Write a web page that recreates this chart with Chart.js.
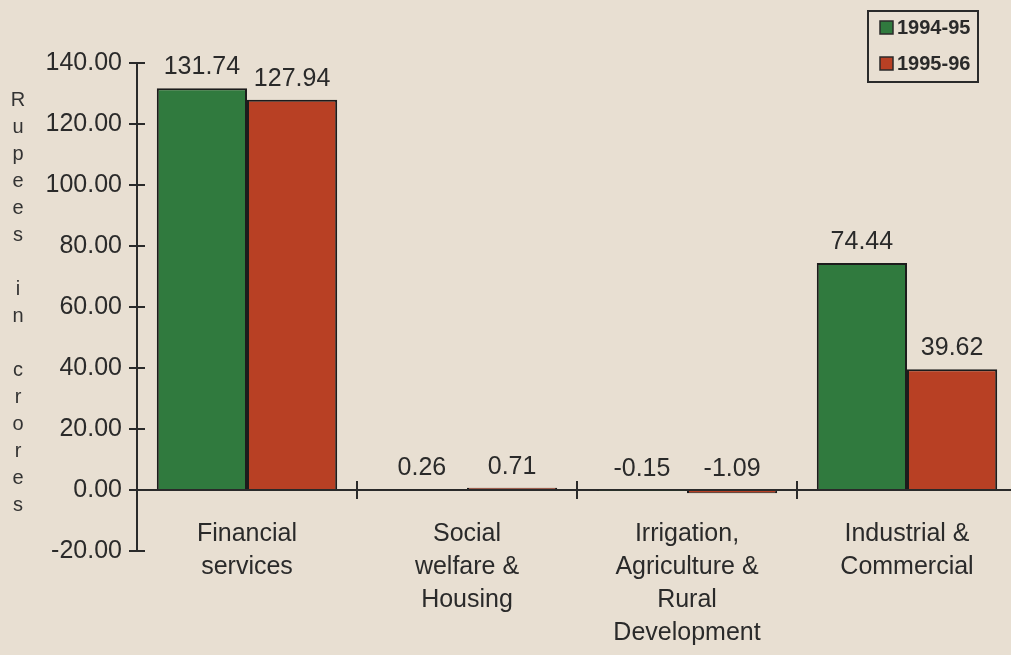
<!DOCTYPE html>
<html>
<head>
<meta charset="utf-8">
<script src="https://cdn.jsdelivr.net/npm/chart.js@4"></script>
<style>
  html, body { margin: 0; padding: 0; background: #e8dfd2; overflow: hidden; }
</style>
</head>
<body>
<!-- the scan cuts the plot a few pixels short on the right, so the canvas runs past the window -->
<canvas id="barChart" width="1017" height="655"></canvas>
<script>
// data
const categories = [
  ['Financial', 'services'],
  ['Social', 'welfare &', 'Housing'],
  ['Irrigation,', 'Agriculture &', 'Rural', 'Development'],
  ['Industrial &', 'Commercial']
];
const seriesNames = ['1994-95', '1995-96'];
const values9495 = [131.74, 0.26, -0.15, 74.44];
const values9596 = [127.94, 0.71, -1.09, 39.62];
const yTicks = [-20, 0, 20, 40, 60, 80, 100, 120, 140];
const axisTitle = 'Rupees in crores';

const FONT = "'Liberation Sans', Arial, Helvetica, sans-serif";
const INK = '#2a2a2a';
const GREEN = '#307a3e';
const RED = '#b84024';

// paper background
const paper = {
  id: 'paper',
  beforeDraw(chart) {
    const c = chart.ctx;
    c.save();
    c.fillStyle = '#e8dfd2';
    c.fillRect(0, 0, chart.width, chart.height);
    c.restore();
  }
};

// value labels above bars, axis ticks, category labels, vertical title, boxed legend
const extras = {
  id: 'extras',
  afterDatasetsDraw(chart) {
    const c = chart.ctx;
    const y = chart.scales.y;
    c.save();
    c.font = '25px ' + FONT;
    c.fillStyle = INK;
    c.textAlign = 'center';
    c.textBaseline = 'middle';
    chart.data.datasets.forEach((ds, di) => {
      chart.getDatasetMeta(di).data.forEach((bar, i) => {
        const v = ds.data[i];
        c.fillText(v.toFixed(2), bar.x, y.getPixelForValue(Math.max(v, 0)) - 21);
      });
    });
    c.restore();
  },
  afterDraw(chart) {
    const c = chart.ctx;
    const x = chart.scales.x;
    const y = chart.scales.y;
    const area = chart.chartArea;
    c.save();
    c.strokeStyle = INK;
    c.lineWidth = 2;

    // crossing ticks on the y axis
    y.ticks.forEach(t => {
      const py = Math.round(y.getPixelForValue(t.value));
      c.beginPath();
      c.moveTo(area.left - 8, py);
      c.lineTo(area.left + 8, py);
      c.stroke();
    });

    // crossing ticks on the zero line between categories
    const zero = y.getPixelForValue(0);
    const half = (x.getPixelForValue(1) - x.getPixelForValue(0)) / 2;
    for (let i = 1; i < categories.length; i++) {
      const px = Math.round(x.getPixelForValue(i) - half);
      c.beginPath();
      c.moveTo(px, zero - 9);
      c.lineTo(px, zero + 9);
      c.stroke();
    }

    // category labels hang under the zero line
    c.font = '25px ' + FONT;
    c.fillStyle = INK;
    c.textAlign = 'center';
    c.textBaseline = 'middle';
    chart.data.labels.forEach((lines, i) => {
      const px = x.getPixelForValue(i);
      lines.forEach((ln, j) => c.fillText(ln, px, zero + 44 + j * 33));
    });

    // vertical axis title, one letter per line
    c.font = '20px ' + FONT;
    c.fillStyle = '#333';
    axisTitle.split('').forEach((ch, i) => {
      c.fillText(ch, 18, 100 + i * 27);
    });

    // legend
    c.lineWidth = 2;
    c.strokeRect(868, 11, 110, 71);
    c.font = 'bold 20px ' + FONT;
    c.textAlign = 'left';
    chart.data.datasets.forEach((ds, i) => {
      const cy = 28 + i * 36;
      c.fillStyle = ds.backgroundColor;
      c.fillRect(880, cy - 7, 13, 13);
      c.lineWidth = 1.5;
      c.strokeRect(880, cy - 7, 13, 13);
      c.fillStyle = INK;
      c.fillText(ds.label, 897, cy);
    });
    c.restore();
  }
};

new Chart(document.getElementById('barChart').getContext('2d'), {
  type: 'bar',
  data: {
    labels: categories,
    datasets: [{
      label: seriesNames[0],
      data: values9495,
      backgroundColor: GREEN,
      borderColor: '#1c1c1c',
      borderWidth: 2
    }, {
      label: seriesNames[1],
      data: values9596,
      backgroundColor: RED,
      borderColor: '#1c1c1c',
      borderWidth: 2
    }]
  },
  options: {
    responsive: false,
    animation: false,
    devicePixelRatio: 1,
    categoryPercentage: 0.82,
    barPercentage: 1.0,
    layout: { padding: { left: 35, top: 63, right: 0, bottom: 0 } },
    plugins: {
      legend: { display: false },
      tooltip: { enabled: false }
    },
    scales: {
      x: {
        grid: { display: false, drawTicks: false },
        border: { display: false },
        ticks: { display: false },
        afterFit(scale) { scale.height = 104; }
      },
      y: {
        min: -20,
        max: 140,
        afterBuildTicks(scale) { scale.ticks = yTicks.map(v => ({ value: v })); },
        grid: {
          drawTicks: false,
          color: ctx => ctx.tick && ctx.tick.value === 0 ? INK : 'rgba(0,0,0,0)',
          lineWidth: 2
        },
        border: { display: true, color: INK, width: 2 },
        ticks: {
          font: { family: FONT, size: 25 },
          color: INK,
          padding: 15,
          callback: v => Number(v).toFixed(2)
        },
        afterFit(scale) { scale.width = 102; }
      }
    }
  },
  plugins: [paper, extras]
});
</script>
</body>
</html>
